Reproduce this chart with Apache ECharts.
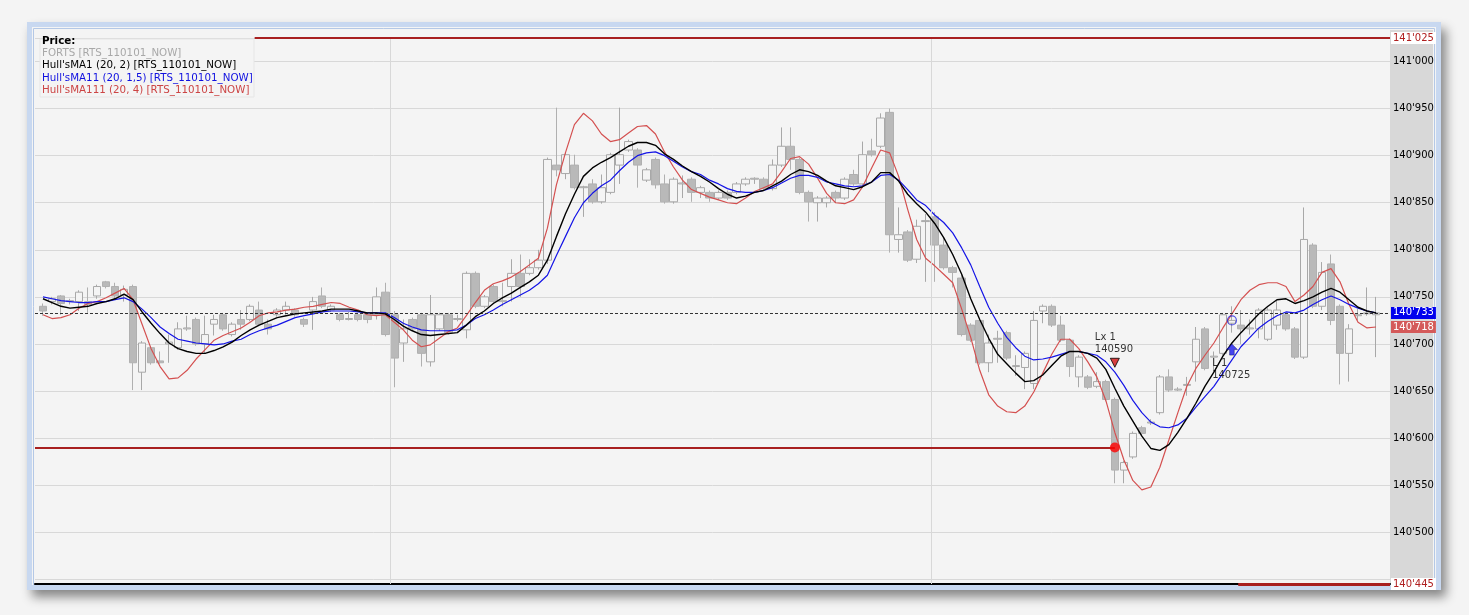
<!DOCTYPE html>
<html><head><meta charset="utf-8">
<script src="https://cdn.jsdelivr.net/npm/echarts@6/dist/echarts.min.js"></script>
<style>html,body{margin:0;padding:0;background:#f4f4f4;}#c{width:1469px;height:615px;}</style>
</head><body><div id="c"></div>
<script>
// ---------- DATA ----------
const opens = [
140740,140745,140751,140745,140745,140745,140751,140766,140761,140752,
140761,140670,140696,140682,140700,140696,140716,140726,140700,140721,
140731,140710,140726,140726,140736,140721,140731,140736,140736,140726,
140736,140751,140736,140731,140726,140731,140731,140731,140755,140731,
140701,140726,140731,140681,140716,140731,140726,140715,140775,140740,
140761,140746,140761,140775,140775,140781,140789,140890,140881,140890,
140866,140870,140851,140861,140890,140906,140906,140874,140896,140870,
140851,140870,140875,140861,140861,140855,140861,140861,140870,140875,
140875,140865,140890,140910,140896,140861,140850,140850,140861,140855,
140880,140870,140905,140910,140946,140811,140819,140790,140830,140835,
140805,140781,140770,140720,140725,140680,140705,140712,140676,140675,
140658,140735,140740,140720,140704,140665,140665,140655,140660,140641,
140566,140580,140611,140616,140627,140665,140651,140656,140681,140716,
140686,140690,140722,140720,140716,140716,140705,140720,140731,140716,
140686,140805,140740,140785,140740,140690,140730,140732,140731];
const closes = [
140735,140748,140743,140746,140755,140742,140761,140761,140751,140758,
140680,140701,140680,140680,140702,140716,140717,140700,140710,140726,
140716,140721,140721,140740,140721,140716,140736,140740,140731,140721,
140745,140740,140740,140726,140727,140726,140726,140750,140710,140685,
140716,140716,140690,140731,140731,140712,140727,140775,140740,140750,
140745,140745,140775,140761,140781,140789,140896,140885,140901,140866,
140867,140851,140866,140901,140901,140915,140890,140885,140869,140851,
140875,140871,140861,140866,140855,140861,140855,140870,140875,140876,
140865,140890,140910,140896,140861,140851,140855,140855,140855,140875,
140870,140901,140901,140940,140816,140816,140789,140825,140831,140805,
140781,140776,140710,140704,140680,140701,140706,140685,140677,140690,
140725,140740,140720,140704,140676,140686,140654,140660,140641,140566,
140574,140605,140605,140617,140665,140651,140652,140657,140705,140674,
140687,140731,140725,140716,140717,140736,140736,140736,140716,140686,
140811,140740,140776,140725,140690,140716,140731,140733,140733];
const lows = [
140730,140742,140731,140742,140735,140733,140748,140759,140748,140745,
140651,140651,140678,140679,140680,140694,140714,140698,140690,140709,
140714,140708,140715,140724,140719,140710,140729,140731,140729,140718,
140715,140738,140734,140724,140725,140724,140722,140726,140708,140654,
140681,140714,140676,140676,140714,140710,140724,140706,140738,140738,
140743,140740,140745,140750,140773,140779,140785,140878,140875,140864,
140835,140849,140849,140859,140870,140904,140866,140872,140865,140849,
140849,140855,140851,140855,140851,140853,140853,140859,140868,140870,
140863,140863,140888,140885,140859,140830,140830,140845,140850,140853,
140868,140868,140899,140908,140797,140797,140787,140786,140766,140766,
140779,140760,140708,140702,140678,140670,140680,140683,140666,140652,
140652,140722,140718,140702,140665,140654,140652,140653,140639,140552,
140552,140578,140603,140614,140625,140649,140650,140645,140660,140672,
140671,140688,140712,140700,140710,140706,140703,140715,140714,140684,
140684,140738,140736,140720,140657,140660,140725,140730,140686];
const highs = [
140743,140750,140752,140748,140757,140760,140763,140767,140765,140762,
140763,140703,140698,140692,140710,140723,140730,140728,140730,140731,
140733,140723,140736,140742,140745,140726,140738,140745,140738,140728,
140750,140760,140742,140733,140734,140733,140733,140760,140765,140735,
140726,140728,140733,140752,140733,140733,140731,140777,140777,140752,
140763,140765,140790,140795,140790,140800,140898,140951,140903,140901,
140868,140875,140880,140903,140951,140917,140908,140887,140898,140880,
140877,140879,140877,140868,140863,140863,140863,140872,140877,140877,
140877,140896,140930,140930,140898,140863,140857,140857,140863,140877,
140885,140915,140918,140945,140950,140845,140821,140832,140838,140840,
140813,140783,140775,140722,140727,140710,140714,140714,140688,140692,
140735,140742,140742,140730,140706,140688,140667,140670,140662,140643,
140576,140607,140613,140620,140667,140673,140654,140665,140718,140718,
140692,140733,140740,140736,140726,140738,140738,140746,140733,140718,
140845,140807,140787,140795,140742,140721,140737,140760,140750];
const hullMA1 = [
140748,140744,140740,140738,140739,140740,140743,140745,140748,140753,
140747,140734,140722,140711,140701,140695,140692,140690,140690,140693,
140697,140702,140709,140715,140720,140724,140728,140730,140732,140733,
140734,140735,140737,140737,140737,140735,140733,140733,140732,140726,
140719,140714,140710,140709,140710,140711,140712,140720,140729,140735,
140743,140749,140754,140760,140766,140773,140789,140814,140838,140859,
140878,140887,140893,140898,140904,140910,140914,140914,140911,140902,
140896,140889,140883,140878,140872,140865,140859,140855,140857,140861,
140863,140868,140873,140880,140885,140883,140879,140873,140868,140866,
140864,140867,140872,140882,140882,140873,140859,140849,140840,140828,
140813,140795,140774,140748,140726,140706,140689,140679,140669,140660,
140661,140667,140677,140687,140692,140692,140690,140685,140673,140653,
140634,140618,140602,140589,140587,140593,140606,140621,140637,140655,
140670,140687,140701,140712,140722,140732,140740,140747,140748,140743,
140746,140750,140755,140759,140755,140747,140739,140735,140733];
const hullMA11 = [
140750,140748,140746,140745,140744,140744,140745,140745,140747,140749,
140745,140737,140728,140718,140711,140705,140703,140701,140700,140699,
140700,140703,140705,140710,140714,140717,140720,140724,140728,140730,
140732,140734,140735,140735,140735,140734,140733,140733,140733,140728,
140722,140718,140715,140714,140714,140714,140715,140720,140727,140731,
140736,140742,140747,140752,140757,140764,140773,140794,140814,140834,
140850,140860,140868,140874,140884,140893,140900,140903,140904,140900,
140894,140888,140883,140880,140874,140870,140865,140862,140861,140861,
140863,140866,140871,140876,140879,140879,140877,140872,140870,140868,
140867,140868,140872,140879,140880,140874,140864,140853,140847,140837,
140829,140818,140802,140784,140761,140739,140722,140707,140696,140687,
140683,140684,140686,140689,140692,140692,140690,140688,140681,140670,
140656,140640,140627,140617,140612,140611,140614,140621,140633,140644,
140655,140669,140683,140697,140707,140717,140724,140730,140734,140733,
140736,140742,140747,140751,140747,140742,140738,140735,140733];
const hullMA111 = [
140731,140727,140728,140731,140738,140743,140745,140749,140754,140759,
140747,140721,140695,140676,140663,140664,140672,140684,140694,140704,
140709,140713,140717,140723,140730,140733,140734,140736,140737,140739,
140740,140742,140744,140743,140739,140736,140731,140730,140731,140723,
140715,140704,140697,140699,140706,140713,140717,140730,140744,140757,
140764,140767,140771,140777,140784,140791,140823,140869,140903,140933,
140945,140937,140923,140915,140917,140924,140931,140932,140923,140904,
140888,140874,140864,140860,140856,140853,140850,140849,140855,140862,
140866,140870,140883,140897,140899,140891,140876,140860,140850,140849,
140853,140867,140887,140906,140903,140878,140843,140811,140791,140783,
140774,140765,140737,140707,140672,140646,140634,140628,140627,140634,
140649,140669,140689,140705,140705,140695,140681,140665,140640,140606,
140577,140555,140545,140548,140569,140598,140627,140655,140674,140688,
140701,140717,140732,140747,140757,140763,140765,140765,140761,140745,
140752,140761,140776,140780,140766,140742,140723,140717,140718];
const sessionBreaks = [38.6, 98.6];
const upperLevel = {price: 141025, fromIndex: 23.5};
const lowerLevel = {price: 140445, fromIndex: 132.7};
const stopLevel = {price: 140590, toIndex: 119};
const exitTrade = {index: 119, markerPrice: 140680, name: 'Lx 1', price: 140590};
const entryTrade = {index: 132, markerPrice: 140694, name: 'L 1', price: 140725};
const legendLines = [
  'Price:', 'FORTS [RTS_110101_NOW]', "Hull'sMA1 (20, 2) [RTS_110101_NOW]",
  "Hull'sMA11 (20, 1,5) [RTS_110101_NOW]", "Hull'sMA111 (20, 4) [RTS_110101_NOW]"];
const Y_MIN = 140445, Y_MAX = 141025;

// ---------- CHART ----------
const FONT = 'DejaVu Sans';
const X_MIN = -0.888, X_MAX = 149.55;
const fmt = v => { const s = String(Math.round(v)); return s.slice(0, 3) + "'" + s.slice(3); };
const axisFmt = v => (Math.abs(v - lowerLevel.price) < 15 || Math.abs(v - upperLevel.price) < 15) ? '' : fmt(v);
const last = a => a[a.length - 1];
const candleData = opens.map((o, i) => [i, o, closes[i], lows[i], highs[i]]);
const toXY = a => a.map((v, i) => [i, v]);
const legendColors = ['#000', '#a8a8a8', '#000', '#1010e0', '#cc4444'];

const chart = echarts.init(document.getElementById('c'), null, {renderer: 'canvas'});
chart.setOption({
  animation: false,
  backgroundColor: '#f4f4f4',
  grid: {left: 35, right: 79, top: 38, bottom: 31, show: true, backgroundColor: '#f4f4f4', borderWidth: 0},
  xAxis: {
    type: 'value', min: X_MIN, max: X_MAX,
    axisLine: {show: true, onZero: false, lineStyle: {color: '#000', width: 2}},
    axisTick: {show: false}, axisLabel: {show: false}, splitLine: {show: false}
  },
  yAxis: {
    type: 'value', position: 'right', min: Y_MIN, max: Y_MAX, splitNumber: 11, scale: true,
    axisLine: {show: false}, axisTick: {show: false},
    axisLabel: {color: '#000', fontFamily: FONT, fontSize: 10, margin: 3, formatter: axisFmt,
      showMinLabel: false, showMaxLabel: false},
    splitLine: {lineStyle: {color: '#d8d8d8', width: 1}}
  },
  graphic: [
    {type: 'rect', z: -8, shape: {x: 27, y: 22, width: 1414, height: 568},
      style: {fill: '#f4f4f4', shadowBlur: 10, shadowColor: 'rgba(0,0,0,0.45)', shadowOffsetX: 5, shadowOffsetY: 7}},
    {type: 'rect', z: -5, shape: {x: 1390, y: 30, width: 43, height: 555}, style: {fill: '#d8d8d8'}},
    {type: 'rect', z: -6, shape: {x: 29.5, y: 24.5, width: 1409, height: 563}, style: {fill: 'none', stroke: '#c8d8f0', lineWidth: 5}},
    {type: 'rect', z: -6, shape: {x: 33.5, y: 28.5, width: 1401, height: 556}, style: {fill: 'none', stroke: '#b4c8e6', lineWidth: 1}},
    {type: 'rect', z: 1, shape: {x: 40, y: 39, width: 214, height: 58}, style: {fill: '#f4f4f4', stroke: '#e6e6e6', lineWidth: 1}},
    ...legendLines.map((t, k) => ({
      type: 'text', z: 3, left: 42, top: 36 + k * 12.3,
      style: {text: t, fill: legendColors[k], font: (k === 0 ? 'bold ' : '') + '10.3px ' + FONT}
    }))
  ],
  series: [
    {
      type: 'candlestick', name: 'FORTS', data: candleData, encode: {x: 0, y: [1, 2, 3, 4]},
      barWidth: 8,
      itemStyle: {color: '#f4f4f4', borderColor: '#a8a8a8', color0: '#b9b9b9', borderColor0: '#b0b0b0', borderWidth: 1},
      markLine: {
        silent: true, symbol: 'none', animation: false,
        data: [
          ...sessionBreaks.map(x => ({xAxis: x, lineStyle: {color: '#d8d8d8', width: 1, type: 'solid'}, label: {show: false}})),
          {yAxis: last(closes), lineStyle: {color: '#333', width: 1, type: [3, 2]}, label: {show: false}},
          [{coord: [upperLevel.fromIndex, upperLevel.price]}, {coord: [X_MAX, upperLevel.price],
            lineStyle: {color: '#a82020', width: 2, type: 'solid'},
            label: {show: true, position: 'end', distance: 1, formatter: fmt(upperLevel.price), color: '#b02020',
              backgroundColor: '#ffffff', fontFamily: FONT, fontSize: 10, padding: [1, 2]}}],
          [{coord: [lowerLevel.fromIndex, lowerLevel.price]}, {coord: [X_MAX, lowerLevel.price],
            lineStyle: {color: '#a82020', width: 3, type: 'solid'},
            label: {show: true, position: 'end', distance: 1, formatter: fmt(lowerLevel.price), color: '#b02020',
              backgroundColor: '#ffffff', fontFamily: FONT, fontSize: 10, padding: [1, 2]}}],
          [{coord: [X_MIN, stopLevel.price]}, {coord: [stopLevel.toIndex, stopLevel.price],
            lineStyle: {color: '#a82020', width: 2, type: 'solid'}, label: {show: false}}]
        ]
      }
    },
    {
      type: 'line', name: "Hull'sMA111", data: toXY(hullMA111), showSymbol: false, z: 3,
      lineStyle: {color: '#d45050', width: 1.2},
      markLine: {silent: true, symbol: 'none', data: [{yAxis: last(hullMA111),
        lineStyle: {color: 'rgba(0,0,0,0)', width: 0},
        label: {show: true, position: 'end', distance: 1, formatter: fmt(last(hullMA111)), color: '#fff',
          backgroundColor: '#d45a5a', fontFamily: FONT, fontSize: 10, padding: [1, 2]}}]}
    },
    {
      type: 'line', name: "Hull'sMA11", data: toXY(hullMA11), showSymbol: false, z: 4,
      lineStyle: {color: '#1414e6', width: 1.2},
      markLine: {silent: true, symbol: 'none', data: [{yAxis: last(hullMA11),
        lineStyle: {color: 'rgba(0,0,0,0)', width: 0},
        label: {show: true, position: 'end', distance: 1, formatter: fmt(last(hullMA11)), color: '#fff',
          backgroundColor: '#0000ee', fontFamily: FONT, fontSize: 10, padding: [1, 2]}}]}
    },
    {
      type: 'line', name: "Hull'sMA1", data: toXY(hullMA1), showSymbol: false, z: 5,
      lineStyle: {color: '#000', width: 1.4}
    },
    {
      type: 'scatter', z: 6, silent: true,
      data: [
        {value: [stopLevel.toIndex, stopLevel.price], symbol: 'circle', symbolSize: 10,
          itemStyle: {color: '#ff0000'}},
        {value: [exitTrade.index, exitTrade.markerPrice], symbol: 'triangle', symbolRotate: 180, symbolSize: 9,
          itemStyle: {color: '#d01010', borderColor: '#000', borderWidth: 1},
          label: {show: true, formatter: exitTrade.name + '\n' + exitTrade.price, position: [-15, -26],
            align: 'left', verticalAlign: 'top', color: '#000', fontFamily: FONT, fontSize: 10, lineHeight: 12}},
        {value: [entryTrade.index, entryTrade.markerPrice],
          symbol: 'path://M0,6 L6,0 L12,6 L8.5,6 L8.5,12 L3.5,12 L3.5,6 Z', symbolSize: [11, 11],
          itemStyle: {color: '#1a1aee', borderColor: '#101060', borderWidth: 0.6},
          label: {show: true, formatter: entryTrade.name + '\n' + entryTrade.price, position: [-14, 14],
            align: 'left', verticalAlign: 'top', color: '#000', fontFamily: FONT, fontSize: 10, lineHeight: 12}},
        {value: [entryTrade.index, entryTrade.price], symbol: 'circle', symbolSize: 9,
          itemStyle: {color: 'rgba(0,0,0,0)', borderColor: '#2a2ae0', borderWidth: 1.2}}
      ]
    }
  ]
});
</script></body></html>
